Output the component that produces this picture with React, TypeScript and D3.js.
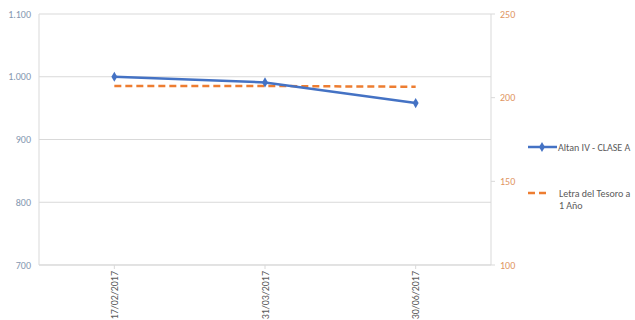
import React, { useEffect, useRef } from 'react';
import * as d3 from 'd3';

const categories = ['17/02/2017', '31/03/2017', '30/06/2017'];
const altanValues = [1000, 991, 958];
const letraValues = [207, 207, 206.5];
const leftTicks = [700, 800, 900, 1000, 1100];
const rightTicks = [100, 150, 200, 250];

const App = () => {
  const svgRef = useRef<SVGSVGElement>(null);

  useEffect(() => {
    const svg = d3.select(svgRef.current);
    const width = 635;
    const height = 320;
    svg.selectAll('*').remove();
    svg.attr('width', width).attr('height', height);

    const left = 39;
    const right = 491;
    const top = 14;
    const bottom = 265;
    const font = 'Calibri, Carlito, "Liberation Sans", Arial, sans-serif';
    const fs = 10;

    const x = d3.scaleBand().domain(categories).range([left, right]);
    const yL = d3.scaleLinear().domain([700, 1100]).range([bottom, top]);
    const yR = d3.scaleLinear().domain([100, 250]).range([bottom, top]);
    const cx = (c: string) => (x(c) as number) + x.bandwidth() / 2;

    // gridlines
    svg
      .append('g')
      .selectAll('line')
      .data(leftTicks)
      .join('line')
      .attr('x1', left)
      .attr('x2', right)
      .attr('y1', (d) => yL(d))
      .attr('y2', (d) => yL(d))
      .attr('stroke', '#d9d9d9')
      .attr('stroke-width', 1);

    // left axis line
    svg.append('line').attr('x1', left).attr('x2', left).attr('y1', top).attr('y2', bottom)
      .attr('stroke', '#d9d9d9');

    // right axis
    svg.append('line').attr('x1', right).attr('x2', right).attr('y1', top).attr('y2', bottom)
      .attr('stroke', '#d9d9d9');
    svg.append('g').selectAll('line').data(rightTicks).join('line')
      .attr('x1', right).attr('x2', right + 4)
      .attr('y1', (d) => yR(d)).attr('y2', (d) => yR(d))
      .attr('stroke', '#d9d9d9');

    // bottom axis
    svg.append('line').attr('x1', left).attr('x2', right).attr('y1', bottom).attr('y2', bottom)
      .attr('stroke', '#d9d9d9');
    svg.append('g').selectAll('line').data(categories).join('line')
      .attr('x1', cx).attr('x2', cx)
      .attr('y1', bottom).attr('y2', bottom + 4)
      .attr('stroke', '#d9d9d9');

    // left tick labels
    svg.append('g').selectAll('text').data(leftTicks).join('text')
      .attr('x', 31)
      .attr('y', (d) => yL(d) + 3.5)
      .attr('text-anchor', 'end')
      .attr('font-family', font)
      .attr('font-size', fs)
      .attr('fill', '#8497b0')
      .text((d) => d3.format(',')(d).replace(',', '.'));

    // right tick labels
    svg.append('g').selectAll('text').data(rightTicks).join('text')
      .attr('x', 500)
      .attr('y', (d) => yR(d) + 3.5)
      .attr('text-anchor', 'start')
      .attr('font-family', font)
      .attr('font-size', fs)
      .attr('fill', '#e0955f')
      .text((d) => d);

    // category labels
    svg.append('g').selectAll('text').data(categories).join('text')
      .attr('transform', (d) => `translate(${cx(d) + 3.5},${bottom + 6}) rotate(-90)`)
      .attr('text-anchor', 'end')
      .attr('font-family', font)
      .attr('font-size', fs)
      .attr('fill', '#595959')
      .text((d) => d);

    // orange dashed series
    const lineR = d3.line<number>().x((d, i) => cx(categories[i])).y((d) => yR(d));
    svg.append('path').datum(letraValues)
      .attr('fill', 'none')
      .attr('stroke', '#ed7d31')
      .attr('stroke-width', 2.5)
      .attr('stroke-dasharray', '7,4')
      .attr('d', lineR);

    // blue series
    const lineL = d3.line<number>().x((d, i) => cx(categories[i])).y((d) => yL(d));
    svg.append('path').datum(altanValues)
      .attr('fill', 'none')
      .attr('stroke', '#4472c4')
      .attr('stroke-width', 2.5)
      .attr('d', lineL);
    const diamond = d3.symbol().type(d3.symbolDiamond).size(30);
    svg.append('g').selectAll('path').data(altanValues).join('path')
      .attr('transform', (d, i) => `translate(${cx(categories[i])},${yL(d)})`)
      .attr('d', diamond)
      .attr('fill', '#4472c4');

    // legend
    const lg = svg.append('g');
    lg.append('line').attr('x1', 528).attr('x2', 557).attr('y1', 147).attr('y2', 147)
      .attr('stroke', '#4472c4').attr('stroke-width', 2.5);
    lg.append('path').attr('transform', 'translate(542,147)').attr('d', diamond).attr('fill', '#4472c4');
    lg.append('text').attr('x', 558).attr('y', 150.5)
      .attr('font-family', font).attr('font-size', fs).attr('fill', '#595959')
      .text('Altan IV - CLASE A');
    lg.append('line').attr('x1', 528).attr('x2', 550).attr('y1', 193).attr('y2', 193)
      .attr('stroke', '#ed7d31').attr('stroke-width', 2.5).attr('stroke-dasharray', '7,4');
    lg.append('text').attr('x', 559).attr('y', 196.5)
      .attr('font-family', font).attr('font-size', fs).attr('fill', '#595959')
      .text('Letra del Tesoro a');
    lg.append('text').attr('x', 559).attr('y', 209)
      .attr('font-family', font).attr('font-size', fs).attr('fill', '#595959')
      .text('1 Año');
  }, []);

  return <svg ref={svgRef} style={{ position: 'absolute', left: 0, top: 0 }} />;
};

export default App;
